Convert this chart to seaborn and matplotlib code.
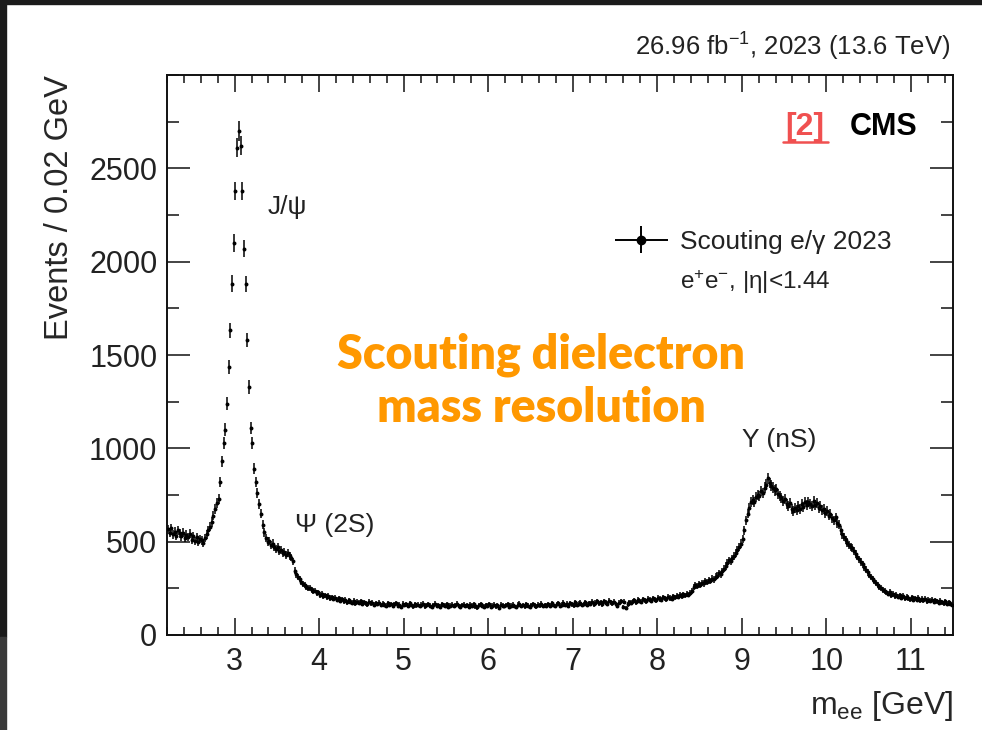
import numpy as np
import matplotlib
matplotlib.use("Agg")
import matplotlib.pyplot as plt
import seaborn as sns
from matplotlib.patches import Rectangle
from matplotlib.lines import Line2D
from matplotlib.legend_handler import HandlerErrorbar
from matplotlib.container import ErrorbarContainer
from matplotlib.ticker import MultipleLocator

# ---------------- data (events per 0.02 GeV bin) ----------------
bin_width = 0.02
first_bin_centre = 2.21

counts_2p2_2p7 = [566, 548, 571, 540, 553, 532, 561, 545, 528, 549, 519, 537, 526, 542, 510,
                  531, 505, 524, 498, 515, 507, 492, 520, 540, 560]
counts_2p7_3p2 = [580, 605, 640, 675, 705, 730, 820, 930, 1030, 1100, 1240, 1436, 1633, 1883, 2100,
                  2380, 2610, 2700, 2620, 2380, 2070, 1880, 1580, 1330, 1110]
counts_3p2_3p7 = [1030, 890, 820, 760, 700, 650, 590, 550, 520, 500, 505, 480, 490, 470, 462,
                  470, 448, 455, 437, 445, 430, 440, 425, 415, 395]
counts_3p7_4p2 = [345, 325, 310, 300, 285, 275, 268, 258, 250, 252, 240, 236, 238, 225, 228,
                  215, 220, 210, 212, 203, 208, 198, 202, 195, 199]
counts_4p2_4p7 = [190, 196, 184, 192, 181, 188, 176, 185, 179, 172, 183, 170, 178, 174, 181,
                  168, 176, 171, 165, 177, 169, 174, 163, 170, 166]
counts_4p7_5p2 = [172, 160, 168, 163, 157, 170, 162, 166, 155, 164, 171, 158, 162, 150, 167,
                  160, 164, 157, 169, 161, 153, 165, 159, 163, 156]
counts_5p2_5p7 = [162, 167, 154, 160, 165, 158, 150, 161, 168, 155, 159, 152, 164, 160, 157,
                  166, 149, 158, 163, 155, 161, 168, 156, 152, 160]
counts_5p7_6p2 = [163, 155, 159, 150, 162, 157, 166, 153, 148, 160, 164, 156, 152, 161, 158,
                  165, 150, 157, 162, 154, 159, 147, 163, 158, 155]
counts_6p2_6p7 = [161, 166, 152, 158, 163, 156, 150, 162, 167, 155, 160, 153, 164, 158, 149,
                  161, 166, 157, 154, 163, 159, 168, 155, 161, 158]
counts_6p7_7p2 = [164, 157, 169, 160, 155, 166, 171, 158, 163, 174, 160, 167, 156, 170, 164,
                  159, 175, 162, 168, 172, 161, 166, 176, 163, 170]
counts_7p2_7p7 = [168, 178, 165, 173, 181, 169, 176, 164, 180, 172, 167, 183, 175, 170, 178,
                  166, 158, 174, 182, 150, 177, 145, 165, 176, 173]
counts_7p7_8p2 = [180, 186, 175, 190, 183, 178, 192, 185, 181, 195, 188, 184, 197, 190, 186,
                  199, 193, 188, 202, 196, 191, 205, 198, 194, 207]
counts_8p2_8p7 = [201, 210, 205, 214, 208, 218, 212, 222, 216, 226, 235, 258, 270, 262, 275,
                  268, 280, 276, 288, 283, 295, 290, 302, 298, 312]
counts_8p7_9p2 = [318, 330, 325, 342, 355, 370, 385, 400, 395, 410, 425, 440, 455, 470, 490,
                  515, 560, 615, 650, 680, 710, 725, 715, 740, 750]
counts_9p2_9p7 = [745, 770, 760, 790, 805, 840, 815, 800, 790, 775, 780, 755, 745, 735, 720,
                  728, 700, 690, 705, 675, 665, 680, 670, 690, 675]
counts_9p7_10p2 = [700, 685, 710, 695, 715, 700, 690, 720, 695, 705, 680, 690, 670, 675, 655,
                   665, 640, 650, 625, 615, 630, 600, 590, 560, 540]
counts_10p2_10p7 = [525, 510, 495, 480, 470, 465, 450, 435, 420, 405, 392, 378, 362, 350, 335,
                    322, 310, 300, 288, 278, 268, 258, 250, 240, 235]
counts_10p7_11p2 = [228, 222, 230, 215, 220, 210, 216, 205, 212, 200, 208, 196, 204, 198, 192,
                    201, 188, 196, 190, 199, 185, 193, 187, 195, 182]
counts_11p2_11p5 = [190, 183, 188, 178, 186, 180, 174, 184, 176, 171, 180, 168, 175, 166, 162]

x_ticks = [3, 4, 5, 6, 7, 8, 9, 10, 11]
y_ticks = [0, 500, 1000, 1500, 2000, 2500]

counts = np.array(counts_2p2_2p7 + counts_2p7_3p2 + counts_3p2_3p7 + counts_3p7_4p2 +
                  counts_4p2_4p7 + counts_4p7_5p2 + counts_5p2_5p7 + counts_5p7_6p2 +
                  counts_6p2_6p7 + counts_6p7_7p2 + counts_7p2_7p7 + counts_7p7_8p2 +
                  counts_8p2_8p7 + counts_8p7_9p2 + counts_9p2_9p7 + counts_9p7_10p2 +
                  counts_10p2_10p7 + counts_10p7_11p2 + counts_11p2_11p5, dtype=float)
mass = np.round(first_bin_centre + bin_width * np.arange(len(counts)), 3)
stat_err = np.sqrt(counts)

# ---------------- style ----------------
sns.set_theme(style="ticks")
plt.rcParams["font.family"] = ["Liberation Sans", "DejaVu Sans"]
plt.rcParams["mathtext.fontset"] = "custom"
plt.rcParams["mathtext.rm"] = "Liberation Sans"
plt.rcParams["mathtext.it"] = "Liberation Sans:italic"
plt.rcParams["mathtext.bf"] = "Liberation Sans:bold"
plt.rcParams["text.color"] = "#222222"

fig = plt.figure(figsize=(9.82, 7.30), dpi=100)
fig.patch.set_facecolor("white")
ax = fig.add_axes([167 / 982, 1 - 635 / 730, 786 / 982, 560 / 730])

ax.errorbar(mass, counts, xerr=bin_width / 2, yerr=stat_err, fmt="none",
            ecolor="black", elinewidth=1.1, capsize=0, zorder=2)
sns.scatterplot(x=mass, y=counts, ax=ax, color="black", s=8, linewidth=0,
                marker="o", legend=False, zorder=3)

ax.set_xlim(2.2, 11.5)
ax.set_ylim(0, 3000)
ax.set_xticks(x_ticks)
ax.set_yticks(y_ticks)
ax.xaxis.set_minor_locator(MultipleLocator(0.2))
ax.yaxis.set_minor_locator(MultipleLocator(250))
for s in ax.spines.values():
    s.set_linewidth(1.4)
    s.set_color("#111111")
    s.set_visible(True)
ax.tick_params(axis="x", which="major", direction="in", length=12, width=1.1,
               top=True, labelsize=22, pad=9, colors="#111111", labelcolor="#222222")
ax.tick_params(axis="x", which="minor", direction="in", length=6, width=1.1, top=True,
               colors="#111111")
ax.tick_params(axis="y", which="major", direction="in", length=16.5, width=1.1,
               right=True, labelsize=22, pad=7, colors="#111111", labelcolor="#222222")
ax.tick_params(axis="y", which="minor", direction="in", length=8.5, width=1.1, right=True,
               colors="#111111")

ax.set_ylabel("Events / 0.02 GeV", fontsize=23.5, loc="top", labelpad=10)
ax.set_xlabel(r"m$_{\rm ee}$ [GeV]", fontsize=23, loc="right", labelpad=8)

# legend
proxy = ax.errorbar([np.nan], [np.nan], xerr=[1.0], yerr=[1.0], fmt="o", color="black",
                    ms=6, elinewidth=1.4, capsize=0, label="Scouting e/γ 2023")
leg = ax.legend(handles=[proxy], loc="center left", bbox_to_anchor=(0.570, 0.702),
                frameon=False, fontsize=19, handlelength=2.0, handletextpad=0.45,
                borderpad=0, borderaxespad=0,
                handler_map={ErrorbarContainer: HandlerErrorbar(xerr_size=1.0, yerr_size=0.52)})
ax.text(0.6527, 0.630, r"e$^{+}$e$^{-}$, |η|<1.44", transform=ax.transAxes,
        ha="left", va="center", fontsize=17.5)

# labels on peaks
ax.text(0.1285, 0.764, "J/ψ", transform=ax.transAxes, ha="left", va="center", fontsize=19)
ax.text(0.163, 0.196, "Ψ (2S)", transform=ax.transAxes, ha="left", va="center", fontsize=19)
ax.text(0.7316, 0.348, "Υ (nS)", transform=ax.transAxes, ha="left", va="center", fontsize=19)

# CMS label and reference
ax.text(0.955, 0.907, "CMS", transform=ax.transAxes, ha="right", va="center",
        fontsize=22, fontweight="bold", color="black")
ax.text(0.812, 0.907, "[2]", transform=ax.transAxes, ha="center", va="center",
        fontsize=23, fontweight="bold", color="#F05050")
fig.add_artist(Line2D([783 / 982, 828 / 982], [1 - 142 / 730, 1 - 142 / 730],
                      color="#F05050", lw=1.8, transform=fig.transFigure))

fig.text(950 / 982, 1 - 47 / 730, r"26.96 fb$^{-1}$, 2023 (13.6 TeV)", ha="right",
         va="center", fontsize=18.5)

# overlay title
fig.text(541 / 982, 1 - 355 / 730, "Scouting dielectron", ha="center", va="center",
         fontsize=33.5, fontweight="heavy", color="#FF9800", family=["Lato", "DejaVu Sans"])
fig.text(541 / 982, 1 - 408 / 730, "mass resolution", ha="center", va="center",
         fontsize=33.5, fontweight="heavy", color="#FF9800", family=["Lato", "DejaVu Sans"])

# screenshot borders
fig.add_artist(Rectangle((0, 1 - 4 / 730), 1, 4 / 730, transform=fig.transFigure,
                         color="#1b1b1b", zorder=10))
fig.add_artist(Rectangle((0, 93 / 730), 6 / 982, 1, transform=fig.transFigure,
                         color="#1b1b1b", zorder=10))
fig.add_artist(Rectangle((0, 0), 6 / 982, 93 / 730, transform=fig.transFigure,
                         color="#3a3a3a", zorder=10))

fig.savefig("out.png", dpi=100)
